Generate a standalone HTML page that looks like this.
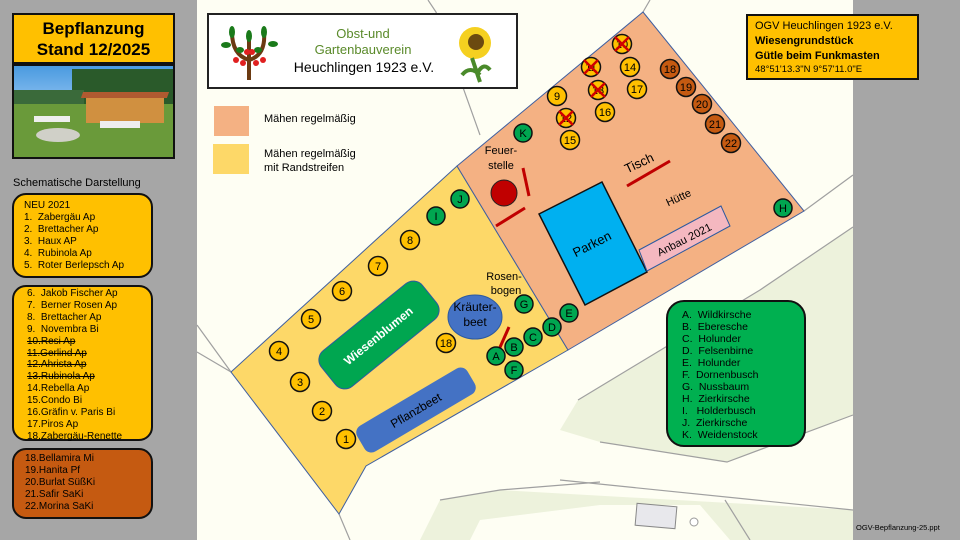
<!DOCTYPE html>
<html><head><meta charset="utf-8"><style>
html,body{margin:0;padding:0;width:960px;height:540px;overflow:hidden;background:#a6a6a6;font-family:"Liberation Sans",sans-serif;}
.abs{position:absolute;}
.box{position:absolute;border:2px solid #111;border-radius:14px;box-sizing:border-box;font-size:10px;line-height:12px;color:#000;}
.box div{white-space:nowrap}
s{text-decoration:line-through}
</style></head><body>
<svg class="abs" style="left:0;top:0" width="960" height="540" viewBox="0 0 960 540" font-family="Liberation Sans, sans-serif">
<rect x="197" y="0" width="656" height="540" fill="#fefef3"/>
<rect x="853" y="0" width="107" height="540" fill="#a6a6a6"/>
<polygon points="560,430 578,400 760,290 853,227 853,415 727,462 600,442" fill="#edf2dc"/>
<polygon points="420,540 440,500 500,490 853,510 853,540" fill="#edf2dc"/>
<polygon points="470,540 480,520 600,505 700,505 730,540" fill="#fefef3"/>
<g stroke="#a0a0a0" stroke-width="1.2" fill="none">
<polyline points="197,352 231,372"/>
<polyline points="197,325 231,372"/>
<polyline points="339,514 350,540"/>
<polyline points="428,0 436,12 480,135"/>
<polyline points="643,12 650,0"/>
<polyline points="804,211 853,175"/>
<polyline points="578,400 760,290 853,227"/>
<polyline points="600,442 727,462 853,415"/>
<polyline points="560,480 853,510"/>
<polyline points="725,500 750,540"/>
<polyline points="440,500 500,490 600,482"/>
</g>
<rect x="636" y="505" width="40" height="22" fill="#e8e8ec" stroke="#888" transform="rotate(5 656 516)"/>
<circle cx="694" cy="522" r="4" fill="#fff" stroke="#999"/>
<polygon points="231,372 457,166 568,350 366,466 339,514" fill="#fdd868" stroke="#3f5fa0" stroke-width="1"/>
<polygon points="457,166 643,12 804,211 568,350" fill="#f4b183" stroke="#3f5fa0" stroke-width="1"/>
<rect x="208" y="14" width="309" height="74" fill="#fff" stroke="#222" stroke-width="2"/>
<g stroke="#6b3a12" stroke-width="4" fill="none"><line x1="249" y1="80" x2="249" y2="40"/><path d="M249 60 Q232 55 232 32"/><path d="M249 60 Q266 55 264 32"/></g>
<g fill="#1a7a1a"><ellipse cx="232" cy="32" rx="3" ry="6"/><ellipse cx="249" cy="36" rx="3" ry="6"/><ellipse cx="264" cy="32" rx="3" ry="6"/><ellipse cx="226" cy="45" rx="5" ry="3"/><ellipse cx="273" cy="44" rx="5" ry="3"/><ellipse cx="240" cy="50" rx="4" ry="3"/><ellipse cx="258" cy="50" rx="4" ry="3"/></g>
<g fill="#e02020"><circle cx="236" cy="60" r="3"/><circle cx="243" cy="63" r="3"/><circle cx="256" cy="63" r="3"/><circle cx="263" cy="60" r="3"/><circle cx="247" cy="52" r="3"/><circle cx="252" cy="52" r="3"/></g>
<circle cx="475" cy="43" r="16" fill="#f5d020"/><circle cx="476" cy="42" r="8" fill="#6b4a10"/>
<path d="M472 58 L480 82 M462 75 Q470 65 480 75 M490 70 Q484 62 478 72" stroke="#4a8a2a" stroke-width="4" fill="none"/>
<text x="363" y="38" font-size="13" fill="#5a8a2a" text-anchor="middle">Obst-und</text>
<text x="363" y="54" font-size="13" fill="#5a8a2a" text-anchor="middle">Gartenbauverein</text>
<text x="364" y="72" font-size="14" fill="#000" text-anchor="middle">Heuchlingen 1923 e.V.</text>
<rect x="214" y="106" width="35" height="30" fill="#f4b183"/>
<rect x="213" y="144" width="36" height="30" fill="#fdd868"/>
<text x="264" y="122" font-size="11">Mähen regelmäßig</text>
<text x="264" y="157" font-size="11">Mähen regelmäßig</text>
<text x="264" y="171" font-size="11">mit  Randstreifen</text>
<rect x="-65" y="-23" width="130" height="46" rx="12" fill="#00a650" stroke="#2c5aa0" stroke-width="1" transform="translate(379,335) rotate(-39)"/>
<text font-size="12" font-weight="bold" fill="#fff" text-anchor="middle" transform="translate(381,339) rotate(-39)">Wiesenblumen</text>
<rect x="-64" y="-15" width="128" height="30" rx="8" fill="#4472c4" transform="translate(416,410) rotate(-30.6)"/>
<text font-size="12" fill="#000" text-anchor="middle" transform="translate(418,414) rotate(-30.6)">Pflanzbeet</text>
<ellipse cx="475" cy="317" rx="27" ry="22" fill="#4472c4" stroke="#2c5aa0"/>
<text x="475" y="311" font-size="12" text-anchor="middle">Kräuter-</text>
<text x="475" y="326" font-size="12" text-anchor="middle">beet</text>
<polygon points="539,214 602,182 647,272 585,305" fill="#00b0f0" stroke="#111" stroke-width="1.5"/>
<text font-size="13" text-anchor="middle" transform="translate(594,248) rotate(-27)">Parken</text>
<polygon points="639,250 721,206 730,226 647,271" fill="#f4b8c0" stroke="#2c5aa0" stroke-width="1"/>
<text font-size="11" text-anchor="middle" transform="translate(686,243) rotate(-27)">Anbau 2021</text>
<text font-size="11" text-anchor="middle" transform="translate(680,201) rotate(-25)">Hütte</text>
<text font-size="13" text-anchor="middle" transform="translate(641,167) rotate(-25)">Tisch</text>
<g stroke="#c00000" stroke-width="3"><line x1="523" y1="168" x2="529" y2="196"/><line x1="496" y1="226" x2="525" y2="208"/><line x1="627" y1="186" x2="670" y2="161"/><line x1="509" y1="327" x2="497" y2="354"/></g>
<circle cx="504" cy="193" r="13" fill="#c00000" stroke="#222"/>
<text x="501" y="154" font-size="11" text-anchor="middle">Feuer-</text>
<text x="501" y="169" font-size="11" text-anchor="middle">stelle</text>
<text x="504" y="280" font-size="11" text-anchor="middle">Rosen-</text>
<text x="506" y="294" font-size="11" text-anchor="middle">bogen</text>
<g stroke="#111" stroke-width="1.5" font-size="11" text-anchor="middle">
<g fill="#ffc000">
<circle cx="346" cy="439" r="9.5"/><circle cx="322" cy="411" r="9.5"/><circle cx="300" cy="382" r="9.5"/><circle cx="279" cy="351" r="9.5"/><circle cx="311" cy="319" r="9.5"/><circle cx="342" cy="291" r="9.5"/><circle cx="378" cy="266" r="9.5"/><circle cx="410" cy="240" r="9.5"/><circle cx="446" cy="343" r="9.5"/>
<circle cx="557" cy="96" r="9.5"/><circle cx="566" cy="118" r="9.5"/><circle cx="570" cy="140" r="9.5"/><circle cx="598" cy="90" r="9.5"/><circle cx="605" cy="112" r="9.5"/><circle cx="591" cy="67" r="9.5"/><circle cx="622" cy="44" r="9.5"/><circle cx="630" cy="67" r="9.5"/><circle cx="637" cy="89" r="9.5"/>
</g>
<g fill="#c55a11"><circle cx="670" cy="69" r="9.5"/><circle cx="686" cy="87" r="9.5"/><circle cx="702" cy="104" r="9.5"/><circle cx="715" cy="124" r="9.5"/><circle cx="731" cy="143" r="9.5"/></g>
<g fill="#00a650"><circle cx="436" cy="216" r="9"/><circle cx="460" cy="199" r="9"/><circle cx="523" cy="133" r="9"/><circle cx="783" cy="208" r="9"/><circle cx="524" cy="304" r="9"/><circle cx="569" cy="313" r="9"/><circle cx="552" cy="327" r="9"/><circle cx="533" cy="337" r="9"/><circle cx="514" cy="347" r="9"/><circle cx="496" cy="356" r="9"/><circle cx="514" cy="370" r="9"/></g>
<g stroke="none" fill="#000">
<text x="346" y="443">1</text><text x="322" y="415">2</text><text x="300" y="386">3</text><text x="279" y="355">4</text><text x="311" y="323">5</text><text x="342" y="295">6</text><text x="378" y="270">7</text><text x="410" y="244">8</text><text x="446" y="347">18</text>
<text x="557" y="100">9</text><text x="566" y="122">12</text><text x="570" y="144">15</text><text x="598" y="94">13</text><text x="605" y="116">16</text><text x="591" y="71">11</text><text x="622" y="48">10</text><text x="630" y="71">14</text><text x="637" y="93">17</text>
<text x="670" y="73">18</text><text x="686" y="91">19</text><text x="702" y="108">20</text><text x="715" y="128">21</text><text x="731" y="147">22</text>
<text x="436" y="220">I</text><text x="460" y="203">J</text><text x="523" y="137">K</text><text x="783" y="212">H</text><text x="524" y="308">G</text><text x="569" y="317">E</text><text x="552" y="331">D</text><text x="533" y="341">C</text><text x="514" y="351">B</text><text x="496" y="360">A</text><text x="514" y="374">F</text>
</g>
<g stroke="#d00000" stroke-width="2.5"><path d="M559 111 L573 125 M573 111 L559 125"/><path d="M591 83 L605 97 M605 83 L591 97"/><path d="M584 60 L598 74 M598 60 L584 74"/><path d="M615 37 L629 51 M629 37 L615 51"/></g>
</g>
<text x="856" y="530" font-size="7.5">OGV-Bepflanzung-25.ppt</text>
</svg>

<div class="abs" style="left:12px;top:13px;width:163px;height:51px;background:#ffc000;border:2px solid #111;box-sizing:border-box;text-align:center;font-size:17px;font-weight:bold;line-height:21px;padding-top:3px">Bepflanzung<br>Stand 12/2025</div>
<div class="abs" style="left:12px;top:64px;width:163px;height:95px;background:#111;">
 <div class="abs" style="left:2px;top:2px;width:159px;height:38px;background:linear-gradient(#4a9ae0,#8cc0f0)"></div>
 <div class="abs" style="left:60px;top:5px;width:101px;height:35px;background:#2a5a2a"></div>
 <div class="abs" style="left:2px;top:26px;width:70px;height:16px;background:#3a6a3a"></div>
 <div class="abs" style="left:2px;top:40px;width:159px;height:53px;background:#6a9a3a"></div>
 <div class="abs" style="left:74px;top:33px;width:78px;height:26px;background:#d09040"></div>
 <div class="abs" style="left:70px;top:28px;width:86px;height:6px;background:#b05a30;transform:skewX(-20deg)"></div>
 <div class="abs" style="left:24px;top:64px;width:44px;height:14px;border-radius:50%;background:#d0d0c8"></div>
 <div class="abs" style="left:22px;top:52px;width:36px;height:6px;background:#eee"></div>
 <div class="abs" style="left:88px;top:57px;width:40px;height:7px;background:#eee"></div>
</div>
<div class="abs" style="left:13px;top:177px;font-size:11px">Schematische Darstellung</div>
<div class="box" style="left:12px;top:193px;width:141px;height:85px;background:#ffc000;padding:5px 0 0 10px">
<div>NEU 2021</div><div>1.&nbsp; Zabergäu Ap</div><div>2.&nbsp; Brettacher Ap</div><div>3.&nbsp; Haux AP</div><div>4.&nbsp; Rubinola Ap</div><div>5.&nbsp; Roter Berlepsch Ap</div></div>
<div class="box" style="left:12px;top:285px;width:141px;height:156px;background:#ffc000;padding:1px 0 0 13px;line-height:11.9px">
<div>6.&nbsp; Jakob Fischer Ap</div><div>7.&nbsp; Berner Rosen Ap</div><div>8.&nbsp; Brettacher Ap</div><div>9.&nbsp; Novembra Bi</div><div><s>10.Resi Ap</s></div><div><s>11.Gerlind Ap</s></div><div><s>12.Ahrista Ap</s></div><div><s>13.Rubinola Ap</s></div><div>14.Rebella Ap</div><div>15.Condo Bi</div><div>16.Gräfin v. Paris Bi</div><div>17.Piros Ap</div><div>18.Zabergäu-Renette</div></div>
<div class="box" style="left:12px;top:448px;width:141px;height:71px;background:#c55a11;padding:3px 0 0 11px">
<div>18.Bellamira Mi</div><div>19.Hanita Pf</div><div>20.Burlat SüßKi</div><div>21.Safir SaKi</div><div>22.Morina SaKi</div></div>
<div class="abs" style="left:746px;top:14px;width:173px;height:66px;background:#ffc000;border:2px solid #111;box-sizing:border-box;padding:3px 0 0 7px;font-size:11px;line-height:15px">
<div>OGV Heuchlingen 1923 e.V.</div><div style="font-weight:bold">Wiesengrundstück</div><div style="font-weight:bold">Gütle beim Funkmasten</div><div style="font-size:9.5px;line-height:12px">48°51'13.3"N 9°57'11.0"E</div></div>
<div class="box" style="left:666px;top:300px;width:140px;height:147px;background:#00b050;border-radius:18px;padding:7px 0 0 14px;font-size:10.5px">
<div>A.&nbsp; Wildkirsche</div><div>B.&nbsp; Eberesche</div><div>C.&nbsp; Holunder</div><div>D.&nbsp; Felsenbirne</div><div>E.&nbsp; Holunder</div><div>F.&nbsp; Dornenbusch</div><div>G.&nbsp; Nussbaum</div><div>H.&nbsp; Zierkirsche</div><div>I.&nbsp;&nbsp; Holderbusch</div><div>J.&nbsp; Zierkirsche</div><div>K.&nbsp; Weidenstock</div></div>
</body></html>
